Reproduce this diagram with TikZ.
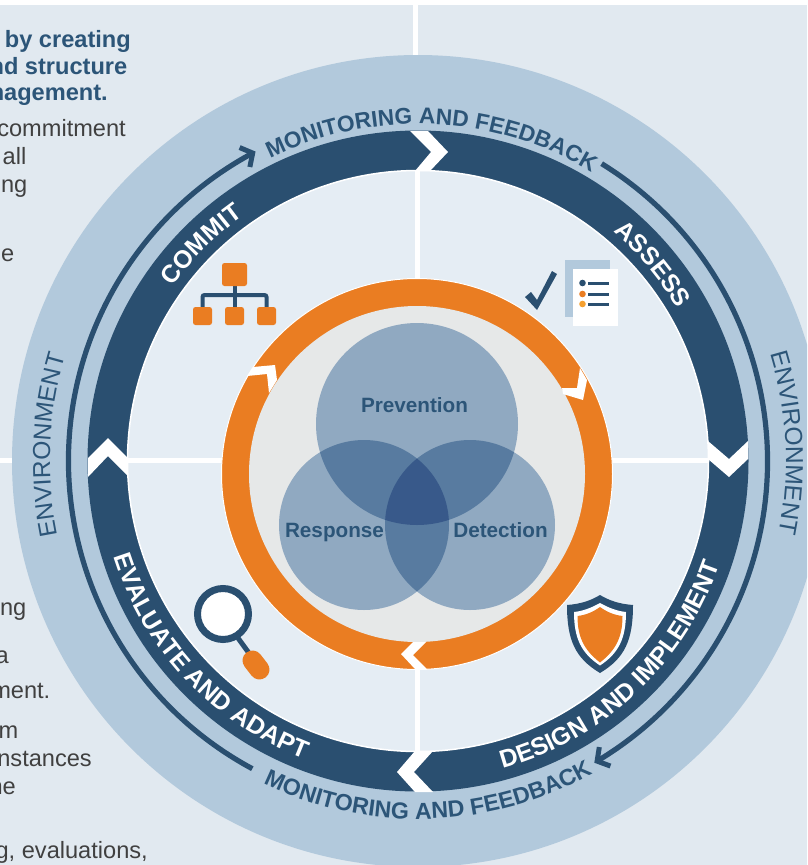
\documentclass[tikz,border=0pt]{standalone}
\usepackage{fontspec}
\setmainfont{Liberation Sans}
\usetikzlibrary{decorations.text,arrows.meta,bending}
\definecolor{pagebg}{HTML}{E1E9F0}
\definecolor{ringlight}{HTML}{B2C9DC}
\definecolor{ringdark}{HTML}{2A4F70}
\definecolor{disc}{HTML}{E5EDF4}
\definecolor{orangec}{HTML}{EA7D22}
\definecolor{greyc}{HTML}{E6E8E8}
\definecolor{bodytext}{HTML}{404040}
\definecolor{headtext}{HTML}{2C5578}
\definecolor{vennone}{HTML}{90A9C1}
\definecolor{venntwo}{HTML}{587BA0}
\definecolor{vennthree}{HTML}{38598A}
\definecolor{dotlight}{HTML}{F5A030}
\newcommand{\ringwhite}{\fontsize{24.9}{26}\selectfont\bfseries\color{white}}
\newcommand{\ringblue}{\fontsize{22.7}{24}\selectfont\bfseries\color{headtext}}
\newcommand{\ringbluelow}{\fontsize{23.2}{25}\selectfont\bfseries\color{headtext}}
\newcommand{\ringenv}{\fontsize{24.6}{27}\selectfont\color{headtext}}
\tikzset{
  bodyline/.style={anchor=base east,inner sep=0pt,text=bodytext,font=\fontsize{23.6}{26}\selectfont},
  headline/.style={anchor=base east,inner sep=0pt,text=headtext,font=\fontsize{23.6}{26}\selectfont\bfseries},
  vennlabel/.style={anchor=base,inner sep=0pt,text=headtext,font=\fontsize{20.7}{24}\selectfont\bfseries},
  crossline/.style={draw=white,line width=5pt},
  chevronfill/.style={fill=white},
  orgbox/.style={fill=orangec,rounded corners=2.5pt},
  orgline/.style={draw=ringdark,line width=4pt,rounded corners=2pt},
  flowarc/.style={draw=ringdark,line width=5.2pt},
  curved/.style={decorate,decoration={text along path,text align={center},text={#1}}}
}
\begin{document}
\begin{tikzpicture}[x=1pt,y=-1pt]
\useasboundingbox (0,0) rectangle (807,865);
\fill[white] (0,0) rectangle (807,865);
\fill[pagebg] (0,5) rectangle (807,865);
\draw[crossline] (415,5) -- (415,60);
\draw[crossline] (0,460) -- (20,460);
% rings
\begin{scope}
\clip (0,0) rectangle (807,865);
\fill[ringlight] (418,461) circle[radius=406pt];
\end{scope}
\fill[ringdark] (418,461) circle[radius=330.5pt];
\fill[disc,draw=white,line width=1.5pt] (418,461) circle[radius=290.5pt];
\draw[crossline] (417,171) -- (417,751);
\draw[crossline] (127,460) -- (708,460);
% chevrons on the dark ring
\fill[chevronfill] (410,131) -- (428,131) -- (448,152) -- (430,171) -- (415,171) -- (431,152) -- cycle;
\fill[chevronfill] (708,441) -- (729,459) -- (748,441) -- (748,459) -- (729,477) -- (708,459) -- cycle;
\fill[chevronfill] (415,751) -- (397,772) -- (415,792) -- (433,792) -- (414,772) -- (433,751) -- cycle;
\fill[chevronfill] (88,458) -- (108,438) -- (127,457) -- (127,475) -- (108,456) -- (88,477) -- cycle;
% orange ring
\fill[orangec,draw=white,line width=1pt] (417,474) circle[radius=195.5pt];
\fill[greyc] (417,474) circle[radius=168pt];
\fill[chevronfill] (247,376) -- (267,374) -- (269,393) -- (277,380) -- (275,365) -- (253,367) -- cycle;
\fill[chevronfill] (580,368) -- (587,380) -- (583,400) -- (563,394) -- (562,388) -- (577,388) -- cycle;
\fill[chevronfill] (413,642) -- (401,654) -- (415,669) -- (427,669) -- (413,655) -- (426,642) -- cycle;
% venn
\fill[vennone] (417,424) circle[radius=101pt];
\fill[vennone] (364,525) circle[radius=85pt];
\fill[vennone] (470,525) circle[radius=85pt];
\begin{scope}
\clip (417,424) circle[radius=101pt];
\fill[venntwo] (364,525) circle[radius=85pt];
\fill[venntwo] (470,525) circle[radius=85pt];
\end{scope}
\begin{scope}
\clip (364,525) circle[radius=85pt];
\fill[venntwo] (470,525) circle[radius=85pt];
\clip (470,525) circle[radius=85pt];
\fill[vennthree] (417,424) circle[radius=101pt];
\end{scope}
\node[vennlabel] (prevention) at (414.5,412) {Prevention};
\node[vennlabel] (response) at (334.5,537) {Response};
\node[vennlabel] (detection) at (500.5,537) {Detection};
% arcs, ring labels
\begin{scope}[shift={(418,461)},x=1pt,y=1pt]
\draw[flowarc,-{Straight Barb[length=9pt,width=22pt,line width=5pt]}] (241.7:349.5pt) arc[start angle=241.7,end angle=117.7,radius=349.5pt];
\draw[flowarc,-{Straight Barb[length=9pt,width=22pt,line width=5pt]}] (58.3:349.5pt) arc[start angle=58.3,end angle=-59.7,radius=349.5pt];
\path[curved={|\ringblue|MONITORING AND FEEDBACK}] (150.5:337pt) arc[start angle=150.5,end angle=24.5,radius=337pt];
\path[curved={|\ringbluelow|MONITORING AND FEEDBACK}] (208.8:358pt) arc[start angle=208.8,end angle=334.8,radius=358pt];
\path[curved={|\ringenv|ENVIRONMENT}] (215.5:368pt) arc[start angle=215.5,end angle=139.5,radius=368pt];
\path[curved={|\ringenv|ENVIRONMENT}] (40.8:368pt) arc[start angle=40.8,end angle=-35.2,radius=368pt];
\path[curved={|\ringwhite|COMMIT}] (175:301pt) arc[start angle=175,end angle=95,radius=301pt];
\path[curved={|\ringwhite|ASSESS}] (80:301pt) arc[start angle=80,end angle=0,radius=301pt];
\path[curved={|\ringwhite|DESIGN AND IMPLEMENT}] (-95.3:319pt) arc[start angle=-95.3,end angle=1.7,radius=319pt];
\path[curved={|\ringwhite|EVALUATE AND ADAPT}] (174.8:319pt) arc[start angle=174.8,end angle=271.8,radius=319pt];
\end{scope}
% org chart icon
\draw[orgline] (234.5,286) -- (234.5,308);
\draw[orgline] (202.5,308) -- (202.5,295) -- (266.5,295) -- (266.5,308);
\fill[orgbox] (222,263) rectangle (247,286);
\fill[orgbox] (193,307) rectangle (212,325);
\fill[orgbox] (225,307) rectangle (244,325);
\fill[orgbox] (257,307) rectangle (276,325);
% checklist icon
\fill[ringdark] (525,297) -- (531,292) -- (537,300) -- (552,271) -- (557,274) -- (537,310) -- cycle;
\fill[ringlight] (565,260) rectangle (610,317);
\fill[white] (573,269) rectangle (618,326);
\fill[ringdark] (582.5,283) circle[radius=3.3pt];
\fill[orangec] (582.5,294) circle[radius=3.3pt];
\fill[dotlight] (582.5,304) circle[radius=3.3pt];
\draw[ringdark,line width=3pt] (588,283) -- (609,283) (588,294) -- (609,294) (588,304) -- (609,304);
% magnifier icon
\draw[ringdark,line width=5pt] (238,638) -- (254,660);
\fill[white,draw=ringdark,line width=7pt] (223,614) circle[radius=25.5pt];
\draw[orangec,line width=20pt,line cap=round] (252.5,660.5) -- (259.5,669.5);
% shield icon
\fill[ringdark] (600,595) .. controls (590,601) and (580,604) .. (567,605) .. controls (567,640) and (575,658) .. (600,673) .. controls (625,658) and (633,640) .. (633,605) .. controls (620,604) and (610,601) .. (600,595) -- cycle;
\fill[white] (600,603) .. controls (591,608) and (583,611) .. (574,612) .. controls (574,638) and (581,653) .. (600,665.5) .. controls (619,653) and (626,638) .. (626,612) .. controls (617,611) and (609,608) .. (600,603) -- cycle;
\fill[orangec] (600,607) .. controls (593,612) and (586,615) .. (577.5,616) .. controls (577.5,637) and (584,650) .. (600,662.5) .. controls (616,650) and (622.5,637) .. (622.5,616) .. controls (614,615) and (607,612) .. (600,607) -- cycle;
% clipped side text
\node[headline] (h1) at (131,47) {by creating};
\node[headline] (h2) at (127.5,74) {nd structure};
\node[headline] (h3) at (108,100) {nagement.};
\node[bodyline] (b1) at (126,136) {commitment};
\node[bodyline] (b2) at (26.5,164) {all};
\node[bodyline] (b3) at (27.5,192) {ing};
\node[bodyline] (b4) at (14.5,261) {e};
\node[bodyline] (b5) at (26.5,615) {ng};
\node[bodyline] (b6) at (9,663) {a};
\node[bodyline] (b7) at (50.5,698) {ment.};
\node[bodyline] (b8) at (18.5,738) {m};
\node[bodyline] (b9) at (92,766) {nstances};
\node[bodyline] (b10) at (16,794) {ne};
\node[bodyline] (b11) at (148,858) {g, evaluations,};
\end{tikzpicture}
\end{document}
